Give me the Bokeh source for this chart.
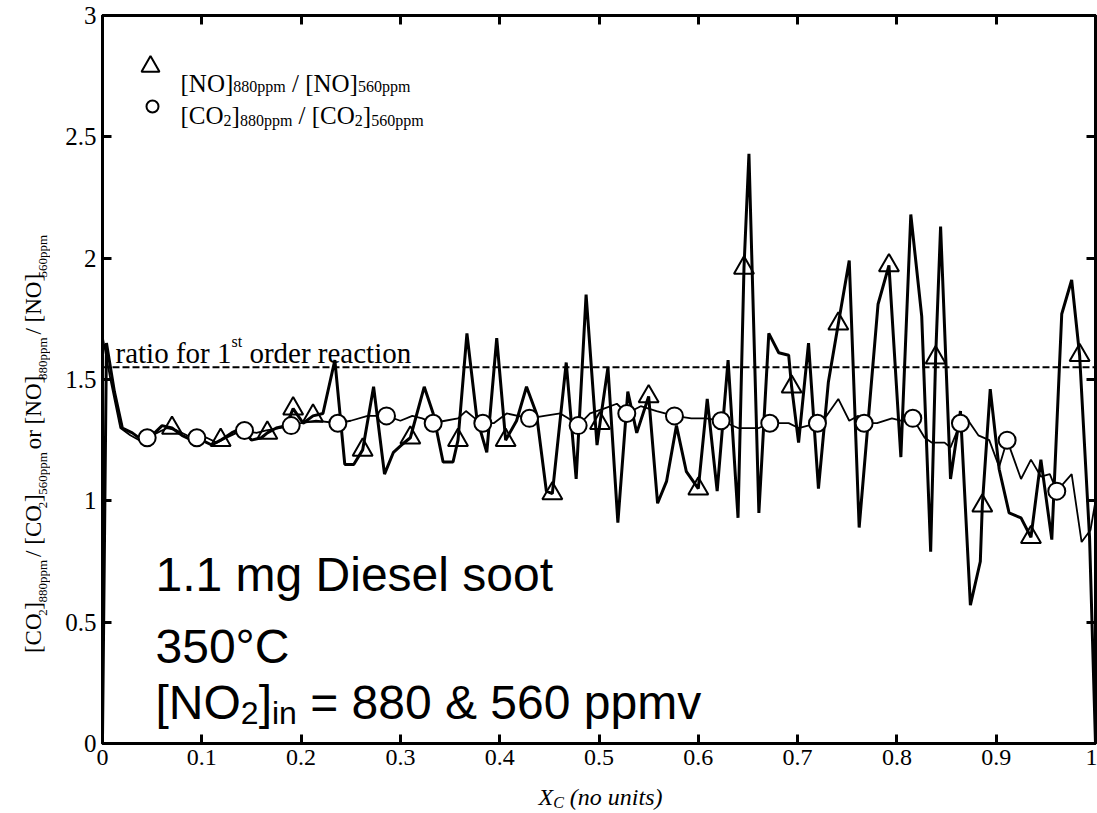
import math
from bokeh.plotting import figure
from bokeh.models import Label, Span, LinearAxis, FixedTicker, Range1d, ColumnDataSource
from bokeh.layouts import column, row
from bokeh.embed import file_html
from bokeh.resources import INLINE

# ---------------- data ----------------
no_x = [0.000, 0.004, 0.012, 0.020, 0.030, 0.040, 0.050, 0.060, 0.070, 0.080,
        0.090, 0.100, 0.110, 0.119, 0.130, 0.140, 0.150, 0.160, 0.166, 0.175,
        0.185, 0.192, 0.202, 0.212, 0.222, 0.234, 0.244, 0.253, 0.262, 0.273,
        0.284, 0.293, 0.301, 0.310, 0.324, 0.333, 0.343, 0.353, 0.358, 0.367,
        0.377, 0.387, 0.397, 0.406, 0.417, 0.427, 0.437, 0.447, 0.453, 0.467,
        0.477, 0.487, 0.498, 0.501, 0.509, 0.519, 0.529, 0.538, 0.550, 0.559,
        0.568, 0.578, 0.588, 0.600, 0.609, 0.619, 0.630, 0.640, 0.646, 0.651,
        0.661, 0.671, 0.681, 0.691, 0.694, 0.701, 0.711, 0.721, 0.731, 0.741,
        0.752, 0.762, 0.781, 0.792, 0.804, 0.814, 0.825, 0.834, 0.839, 0.844,
        0.854, 0.864, 0.874, 0.884, 0.886, 0.894, 0.903, 0.913, 0.925, 0.935,
        0.945, 0.956, 0.966, 0.976, 0.984, 0.994, 1.000]
no_ratio = [0.02, 1.65, 1.45, 1.30, 1.28, 1.25, 1.27, 1.31, 1.30, 1.27,
            1.25, 1.25, 1.23, 1.25, 1.28, 1.30, 1.25, 1.26, 1.28, 1.30,
            1.31, 1.38, 1.32, 1.35, 1.36, 1.58, 1.15, 1.15, 1.21, 1.47,
            1.11, 1.20, 1.23, 1.26, 1.47, 1.36, 1.16, 1.16, 1.25, 1.69,
            1.34, 1.20, 1.67, 1.25, 1.33, 1.47, 1.36, 1.04, 1.03, 1.57,
            1.09, 1.85, 1.23, 1.32, 1.55, 0.91, 1.45, 1.28, 1.43, 0.99,
            1.08, 1.31, 1.12, 1.05, 1.42, 1.04, 1.58, 0.93, 1.96, 2.43,
            0.95, 1.69, 1.61, 1.60, 1.47, 1.24, 1.65, 1.05, 1.49, 1.73,
            1.99, 0.89, 1.81, 1.97, 1.18, 2.18, 1.76, 0.79, 1.59, 2.13,
            1.09, 1.37, 0.57, 0.75, 0.98, 1.46, 1.13, 0.95, 0.93, 0.85,
            1.17, 0.84, 1.77, 1.91, 1.60, 0.85, 0.00]

co2_x = [0.000, 0.008, 0.018, 0.028, 0.037, 0.045, 0.055, 0.065, 0.075, 0.085,
         0.095, 0.105, 0.115, 0.125, 0.135, 0.143, 0.155, 0.165, 0.178, 0.190,
         0.200, 0.215, 0.237, 0.250, 0.267, 0.286, 0.300, 0.312, 0.322, 0.333,
         0.345, 0.358, 0.366, 0.375, 0.383, 0.394, 0.407, 0.430, 0.445, 0.461,
         0.469, 0.479, 0.491, 0.505, 0.518, 0.528, 0.542, 0.558, 0.576, 0.593,
         0.608, 0.623, 0.640, 0.661, 0.672, 0.691, 0.701, 0.720, 0.729, 0.741,
         0.752, 0.761, 0.767, 0.780, 0.795, 0.805, 0.816, 0.828, 0.835, 0.848,
         0.854, 0.864, 0.872, 0.882, 0.893, 0.903, 0.911, 0.925, 0.935, 0.945,
         0.954, 0.961, 0.976, 0.986, 0.995, 1.000]
co2_ratio = [1.68, 1.50, 1.30, 1.27, 1.25, 1.26, 1.28, 1.30, 1.29, 1.27,
             1.26, 1.26, 1.24, 1.26, 1.28, 1.29, 1.28, 1.29, 1.30, 1.31,
             1.32, 1.33, 1.32, 1.33, 1.35, 1.35, 1.33, 1.35, 1.34, 1.32,
             1.33, 1.34, 1.37, 1.34, 1.32, 1.32, 1.36, 1.34, 1.35, 1.36,
             1.34, 1.31, 1.36, 1.38, 1.40, 1.36, 1.39, 1.37, 1.35, 1.34,
             1.34, 1.33, 1.30, 1.30, 1.32, 1.32, 1.30, 1.32, 1.35, 1.42,
             1.33, 1.35, 1.32, 1.32, 1.34, 1.33, 1.34, 1.26, 1.24, 1.24,
             1.22, 1.32, 1.33, 1.27, 1.25, 1.14, 1.25, 1.09, 1.17, 1.10,
             1.11, 1.04, 1.11, 0.83, 0.88, 1.00]

tri_x = [0.070, 0.119, 0.166, 0.192, 0.212, 0.262, 0.310, 0.358, 0.406, 0.453,
         0.501, 0.550, 0.600, 0.646, 0.694, 0.741, 0.792, 0.839, 0.886, 0.935, 0.984]
tri_y = [1.30, 1.25, 1.28, 1.38, 1.35, 1.21, 1.26, 1.25, 1.25, 1.03,
         1.32, 1.43, 1.05, 1.96, 1.47, 1.73, 1.97, 1.59, 0.98, 0.85, 1.60]

circ_x = [0.045, 0.095, 0.143, 0.190, 0.237, 0.286, 0.333, 0.383, 0.430, 0.479,
          0.528, 0.576, 0.623, 0.672, 0.720, 0.767, 0.816, 0.864, 0.911, 0.961]
circ_y = [1.26, 1.26, 1.29, 1.31, 1.32, 1.35, 1.32, 1.32, 1.34, 1.31,
          1.36, 1.35, 1.33, 1.32, 1.32, 1.32, 1.34, 1.32, 1.25, 1.04]

first_order_ratio = 1.55

x_ticks = [0, 0.1, 0.2, 0.3, 0.4, 0.5, 0.6, 0.7, 0.8, 0.9, 1]
x_tick_labels = ["0", "0.1", "0.2", "0.3", "0.4", "0.5", "0.6", "0.7", "0.8", "0.9", "1"]
y_ticks = [0, 0.5, 1, 1.5, 2, 2.5, 3]
y_tick_labels = ["0", "0.5", "1", "1.5", "2", "2.5", "3"]

# ---------------- layout (canvas pixel geometry) ----------------
W, H = 1097, 813
YLAB_W = 50            # strip left of the main figure holding the y title
XLAB_H = 40            # strip under the main figure holding the x title
MAIN_W, MAIN_H = W - YLAB_W, H - XLAB_H
FL, FR, FT, FB = 102, 1095, 15, 743      # frame edges in page pixels
X0, X1, Y0, Y1 = 0.0, 1.0, 0.0, 3.0

SERIF = "Liberation Serif"
SANS = "Liberation Sans"

p = figure(width=MAIN_W, height=MAIN_H, x_range=Range1d(X0, X1), y_range=Range1d(Y0, Y1),
           output_backend="svg", toolbar_location=None,
           min_border_left=FL - YLAB_W, min_border_right=W - FR,
           min_border_top=FT, min_border_bottom=MAIN_H - FB)
p.background_fill_color = "white"
p.border_fill_color = "white"
p.grid.visible = False
p.outline_line_color = "black"
p.outline_line_width = 3


def style_axis(ax, ticks, labels, show, size="24px"):
    ax.ticker = FixedTicker(ticks=ticks)
    ax.axis_line_width = 3
    ax.axis_line_color = "black"
    ax.major_tick_in = 9
    ax.major_tick_out = 0
    ax.major_tick_line_width = 3
    ax.major_tick_line_color = "black"
    ax.minor_tick_line_color = None
    if show:
        ax.major_label_overrides = {t: l for t, l in zip(ticks, labels)}
        ax.major_label_text_font = SERIF
        ax.major_label_text_font_size = size
        ax.major_label_text_color = "black"
        ax.major_label_standoff = 6
    else:
        ax.major_label_overrides = {t: "" for t in ticks}
        ax.major_label_text_font_size = "0px"
        ax.major_label_standoff = 0


style_axis(p.xaxis[0], x_ticks, x_tick_labels, True, "24px")
style_axis(p.yaxis[0], y_ticks, y_tick_labels, True, "25px")
top_ax = LinearAxis()
style_axis(top_ax, x_ticks, x_tick_labels, False)
p.add_layout(top_ax, "above")
right_ax = LinearAxis()
style_axis(right_ax, y_ticks, y_tick_labels, False)
p.add_layout(right_ax, "right")

# strips for the axis titles (plain canvases, data units == page pixels)
yfig = figure(width=YLAB_W, height=MAIN_H, x_range=Range1d(0, YLAB_W), y_range=Range1d(MAIN_H, 0),
              x_axis_type=None, y_axis_type=None, output_backend="svg", toolbar_location=None,
              min_border=0)
xfig = figure(width=W, height=XLAB_H, x_range=Range1d(0, W), y_range=Range1d(H, MAIN_H),
              x_axis_type=None, y_axis_type=None, output_backend="svg", toolbar_location=None,
              min_border=0)
for f in (yfig, xfig):
    f.outline_line_color = None
    f.grid.visible = False
    f.background_fill_color = "white"
    f.border_fill_color = "white"

# ---------------- helpers for text placement ----------------
TIMES = {' ': 250, '(': 333, ')': 333, '[': 333, ']': 333, '/': 278, '.': 250,
         '&': 778, '=': 564, 'A': 722, 'C': 667, 'N': 722, 'O': 722, 'X': 611,
         'a': 444, 'c': 444, 'd': 500, 'e': 444, 'f': 333, 'i': 278, 'm': 778,
         'n': 500, 'o': 500, 'p': 500, 'r': 333, 's': 389, 't': 278, 'u': 500, 'v': 500}
ARIAL = {' ': 278, '.': 278, 'm': 833, 'g': 556, 'D': 722, 'i': 222, 'e': 556,
         's': 500, 'l': 222, 'o': 556, 't': 278, '°': 400, 'C': 722, '[': 278,
         ']': 278, 'N': 722, 'O': 778, 'n': 556, '=': 584, '&': 667, 'p': 556, 'v': 500}


def tw(s, size, table):
    return sum(table.get(c, 500 if table is TIMES else 556) for c in s) * size / 1000.0


def px2x(px):
    return X0 + (px - FL) / (FR - FL) * (X1 - X0)


def py2y(py):
    return Y0 + (FB - py) / (FB - FT) * (Y1 - Y0)


def hseq(fig, parts, x_px, base_py, font, table, style="normal", cx=px2x, cy=py2y):
    cur = x_px
    for txt, size, dy in parts:
        lead = len(txt) - len(txt.lstrip(' '))
        shown = txt.strip(' ')
        off = tw(' ' * lead, size, table)
        fig.add_layout(Label(x=cx(cur + off), y=cy(base_py + dy), text=shown,
                             text_font=font, text_font_size=f"{size}px",
                             text_font_style=style, text_color="black",
                             text_align="left", text_baseline="alphabetic"))
        cur += tw(txt, size, table)
    return cur


def vseq(fig, parts, base_px, y_start_py, font, table):
    cur = y_start_py
    for txt, size, dx in parts:
        lead = len(txt) - len(txt.lstrip(' '))
        shown = txt.strip(' ')
        off = tw(' ' * lead, size, table)
        fig.add_layout(Label(x=base_px + dx, y=cur - off, text=shown,
                             angle=math.pi / 2, angle_units="rad",
                             text_font=font, text_font_size=f"{size}px", text_color="black",
                             text_align="left", text_baseline="alphabetic"))
        cur -= tw(txt, size, table)
    return cur


# ---------------- data marks ----------------
no_src = ColumnDataSource(dict(x=no_x, y=no_ratio))
co2_src = ColumnDataSource(dict(x=co2_x, y=co2_ratio))
tri_src = ColumnDataSource(dict(x=tri_x, y=tri_y))
circ_src = ColumnDataSource(dict(x=circ_x, y=circ_y))

p.add_layout(Span(location=first_order_ratio, dimension="width", line_color="black",
                  line_width=2, line_dash="7 3"))

p.scatter("x", "y", source=tri_src, marker="triangle", size=20,
          fill_color="white", line_color="black", line_width=2)
p.line("x", "y", source=no_src, line_color="black", line_width=3)
p.line("x", "y", source=co2_src, line_color="black", line_width=1.8)
p.scatter("x", "y", source=circ_src, marker="circle", size=17,
          fill_color="white", line_color="black", line_width=2)

# ---------------- legend (custom, with subscripts) ----------------
leg_src = ColumnDataSource(dict(x=[px2x(150)], y=[py2y(66)]))
p.scatter("x", "y", source=leg_src, marker="triangle", size=18,
          fill_color="white", line_color="black", line_width=2)
leg_src2 = ColumnDataSource(dict(x=[px2x(152)], y=[py2y(106)]))
p.scatter("x", "y", source=leg_src2, marker="circle", size=12,
          fill_color="white", line_color="black", line_width=2)

LM, LS = 25, 16
hseq(p, [("[NO]", LM, 0), ("880ppm", LS, 3), (" / [NO]", LM, 0), ("560ppm", LS, 3)],
     180, 83, SERIF, TIMES)
hseq(p, [("[CO", LM, 0), ("2", LS, 5), ("]", LM, 0), ("880ppm", LS, 5), (" / [CO", LM, 0),
         ("2", LS, 5), ("]", LM, 0), ("560ppm", LS, 5)],
     180, 115, SERIF, TIMES)

# ---------------- dashed-line caption ----------------
hseq(p, [("ratio for 1", 29, 0), ("st", 16, -11), (" order reaction", 29, 0)],
     115, 352, SERIF, TIMES)

# ---------------- annotation block ----------------
F, Fs = 48, 32
hseq(p, [("1.1 mg Diesel soot", F, 0)], 155, 574, SANS, ARIAL)
hseq(p, [("350°C", F, 0)], 155, 646, SANS, ARIAL)
hseq(p, [("[NO", F, 0), ("2", Fs, 10), ("]", F, 0), ("in", Fs, 10),
         (" = 880 & 560 ppmv", F, 0)], 155, 702, SANS, ARIAL)

# ---------------- axis titles ----------------
M, S = 23, 13
vseq(yfig, [("[CO", M, 0), ("2", S, 9), ("]", M, 0), ("880ppm", S, 9), (" / [CO", M, 0),
            ("2", S, 9), ("]", M, 0), ("560ppm", S, 9), (" or [NO]", M, 0), ("880ppm", S, 9),
            (" / [NO]", M, 0), ("560ppm", S, 9)],
     33, 677, SERIF, TIMES)

ident = lambda v: v
hseq(xfig, [("X", 24, 0), ("C", 16, 6), (" (no units)", 24, 0)], 538, 796, SERIF, TIMES,
     "italic", cx=ident, cy=ident)

root = column(row(yfig, p), xfig)
open("out.html", "w").write(file_html(root, INLINE))
